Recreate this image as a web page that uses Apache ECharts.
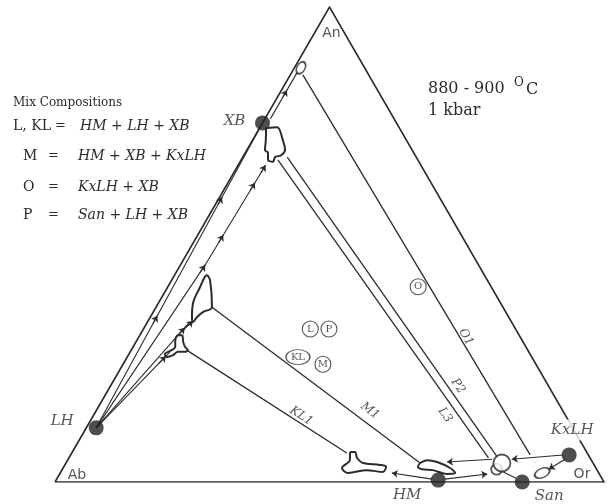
<!DOCTYPE html>
<html><head><meta charset="utf-8">
<script src="https://cdn.jsdelivr.net/npm/echarts/dist/echarts.min.js"></script>
<style>html,body{margin:0;padding:0;background:#fff}#c{width:615px;height:504px}</style>
</head><body><div id="c"></div>
<script>
// ---- DATA (ternary compositions given as [An %, Or %]; Ab = 100 - An - Or) ----
const vertexNames = ['Ab', 'Or', 'An'];
const vertexAnOr = [[0, 0], [0, 100], [100, 0]];

const phaseNames = ['XB', 'LH', 'HM', 'San', 'KxLH'];
const phaseAnOr = [[75.6, 0], [11.4, 1.8], [0.4, 69.6], [0, 85.1], [5.7, 90.8]];

const mixNames = ['L', 'P', 'KL', 'M', 'O'];
const mixAnOr = [[32.2, 30.4], [32.2, 33.8], [26.3, 31.1], [24.8, 36.4], [41.1, 45.6]];

const tieNames = ['KL1', 'M1', 'L3', 'P2', 'O1'];
const tieLines = [
  [[27.6, 10.4], [6.1, 50.1]],
  [[36.8, 10.2], [4.0, 64.5]],
  [[67.8, 6.7], [5.1, 76.4]],
  [[68.4, 8.1], [5.3, 77.9]],
  [[85.7, 2.3], [5.7, 83.7]]
];
const tieLabelAnOr = [[13.9, 37.9], [15.0, 49.9], [14.1, 64.0], [20.2, 63.3], [30.5, 59.6]];

const pathLines = [
  [[11.4, 1.8], [75.6, 0]],
  [[11.4, 1.8], [45.7, 4.5], [66.7, 5.0]],
  [[11.4, 1.8], [33.7, 7.7]],
  [[11.4, 1.8], [27.4, 7.25]],
  [[31.2, 7.0], [33.9, 8.2]],
  [[76.5, 1.0], [86.5, 1.0]],
  [[2.1, 80.6], [0.8, 83.6]]
];
// arrows: [tail, tip]
const arrowLines = [
  [[58.5, 0.48], [60.0, 0.44]],
  [[33.3, 1.19], [35.0, 1.14]],
  [[50.4, 4.61], [52.0, 4.65]],
  [[61.4, 4.86], [63.0, 4.9]],
  [[65.1, 4.96], [66.7, 5.0]],
  [[44.1, 4.37], [45.7, 4.5]],
  [[25.0, 6.43], [26.5, 6.94]],
  [[31.0, 6.99], [32.5, 7.38]],
  [[32.8, 7.7], [33.9, 8.2]],
  [[81.0, 1.0], [82.5, 1.0]],
  [[4.8, 77.2], [4.2, 69.3]],
  [[5.7, 89.7], [4.8, 80.8]],
  [[4.8, 90.5], [2.7, 88.6]],
  [[0.6, 68.4], [1.9, 60.4]],
  [[0.6, 70.7], [1.7, 77.9]]
];

const openCircleAnOr = [[2.7, 79.1], [4.0, 79.4]];
const ellipseAnOr = [[87.2, 1.2], [1.9, 87.8]];

const blobXB = [[74.5,1.2],[74.7,3.1],[72.0,5.5],[69.9,6.95],[68.8,6.8],[68.4,5.9],[67.4,6.0],[67.8,4.9],[69.3,4.15],[69.9,3.3],[72.0,2.4]];
const blobUpper = [[43.6,5.9],[42.5,7.0],[36.8,10.2],[35.8,9.1],[34.7,8.5],[33.7,8.3],[34.7,7.6],[37.7,6.3],[41.05,5.9],[43.2,5.7]];
const blobT = [[30.9,6.8],[30.9,7.7],[29.5,8.6],[28.4,9.5],[27.8,10.3],[27.4,10.0],[27.4,8.7],[26.7,8.15],[26.3,7.25],[26.9,6.55],[27.8,7.4],[28.4,7.7],[29.9,6.95]];
const blobKL1 = [[6.3,50.6],[6.3,51.5],[5.05,52.5],[4.0,54.1],[3.6,57.4],[3.2,58.7],[2.1,58.65],[2.5,55.55],[1.9,52.45],[2.95,50.8],[4.6,51.4]];
const blobM1 = [[4.0,64.5],[4.6,65.5],[4.2,67.5],[2.95,70.5],[1.9,71.95],[1.7,70.55],[2.5,67.6],[2.7,65.5],[3.2,64.5]];

const legendTitle = 'Mix Compositions';
const legendRows = [
  ['L, KL', 'HM + LH + XB'],
  ['M', 'HM + XB + KxLH'],
  ['O', 'KxLH + XB'],
  ['P', 'San + LH + XB']
];
const conditionTemp = '880 - 900';
const conditionPressure = '1 kbar';

// ---- helpers / styles ----
function T(p) { return [p[1] + p[0] / 2, p[0]]; }  // [An, Or] -> [x, y]
const INK = '#2b2b2b';
const SERIF = '"DejaVu Serif", "Liberation Serif", serif';
const SANS = '"DejaVu Sans", "Liberation Sans", sans-serif';

const phaseLabelOffset = { XB: [-28, -2], LH: [-34, -7], HM: [-31, 15], San: [27, 14], KxLH: [3, -25] };
const vertexLabelOffset = { Ab: [22, -7], Or: [-22, -8], An: [2, 26] };
const tieRotate = { KL1: -33, M1: -37, L3: -55, P2: -55, O1: -59 };

function blobSeries(pts) {
  const d = pts.map(T); d.push(T(pts[0]));
  return { type: 'line', data: d, smooth: 0.35, symbol: 'none', silent: true, z: 4,
    lineStyle: { color: INK, width: 2 } };
}

const chart = echarts.init(document.getElementById('c'));
const rowsY = [126, 156, 187, 215];
const graphics = [
  { type: 'text', x: 13, y: 103, style: { text: legendTitle, font: '12px ' + SERIF, fill: INK, verticalAlign: 'middle' } },
  { type: 'text', x: 428, y: 89, style: { text: conditionTemp, font: '16px ' + SERIF, fill: INK, verticalAlign: 'middle' } },
  { type: 'text', x: 514, y: 83, style: { text: 'O', font: '12px ' + SERIF, fill: INK, verticalAlign: 'middle' } },
  { type: 'text', x: 526, y: 90, style: { text: 'C', font: '16px ' + SERIF, fill: INK, verticalAlign: 'middle' } },
  { type: 'text', x: 428, y: 111, style: { text: conditionPressure, font: '16px ' + SERIF, fill: INK, verticalAlign: 'middle' } }
];
legendRows.forEach((r, i) => {
  const first = i === 0;
  graphics.push({ type: 'text', x: first ? 13 : 23, y: rowsY[i], style: { text: r[0], font: '14px ' + SERIF, fill: INK, verticalAlign: 'middle' } });
  graphics.push({ type: 'text', x: first ? 55 : 48, y: rowsY[i], style: { text: '=', font: '13px ' + SERIF, fill: INK, verticalAlign: 'middle' } });
  graphics.push({ type: 'text', x: first ? 80 : 78, y: rowsY[i], style: { text: r[1], font: 'italic 14px ' + SERIF, fill: INK, verticalAlign: 'middle' } });
});

chart.setOption({
  animation: false,
  backgroundColor: '#fff',
  grid: { left: 55, top: 7, width: 549, height: 475 },
  xAxis: { type: 'value', min: 0, max: 100, show: false },
  yAxis: { type: 'value', min: 0, max: 100, show: false },
  graphic: graphics,
  series: [
    { type: 'lines', coordinateSystem: 'cartesian2d', polyline: true, silent: true, z: 1,
      lineStyle: { color: INK, width: 1.6, opacity: 1 },
      data: [{ coords: [T(vertexAnOr[0]), T(vertexAnOr[1]), T(vertexAnOr[2]), T(vertexAnOr[0])] }] },
    { type: 'lines', coordinateSystem: 'cartesian2d', silent: true, z: 2,
      lineStyle: { color: INK, width: 1.3, opacity: 1 },
      data: tieLines.map(l => ({ coords: l.map(T) })) },
    { type: 'lines', coordinateSystem: 'cartesian2d', polyline: true, silent: true, z: 2,
      lineStyle: { color: INK, width: 1.1, opacity: 1 },
      data: pathLines.map(l => ({ coords: l.map(T) })) },
    { type: 'lines', coordinateSystem: 'cartesian2d', silent: true, z: 3,
      symbol: ['none', 'arrow'], symbolSize: 6,
      lineStyle: { color: INK, width: 1.1, opacity: 1 },
      data: arrowLines.map(l => ({ coords: l.map(T) })) },
    blobSeries(blobXB), blobSeries(blobUpper), blobSeries(blobT), blobSeries(blobKL1), blobSeries(blobM1),
    { type: 'scatter', silent: true, z: 5, symbol: 'circle',
      itemStyle: { color: '#fff', borderColor: INK, borderWidth: 1.8 },
      data: openCircleAnOr.map((p, i) => ({ value: T(p), symbolSize: i === 0 ? 11 : 17 })) },
    { type: 'scatter', silent: true, z: 5, symbol: 'circle',
      itemStyle: { color: '#fff', borderColor: INK, borderWidth: 1.8 },
      data: ellipseAnOr.map((p, i) => ({ value: T(p), symbolSize: i === 0 ? [13, 8] : [16, 9], symbolRotate: i === 0 ? 60 : 25 })) },
    { type: 'scatter', silent: true, z: 6, symbol: 'circle', symbolSize: 15,
      itemStyle: { color: '#222' },
      label: { show: true, position: 'inside', formatter: '{b}', color: INK,
        fontStyle: 'italic', fontSize: 15, fontFamily: SERIF },
      data: phaseNames.map((n, i) => ({ name: n, value: T(phaseAnOr[i]),
        label: { offset: phaseLabelOffset[n], backgroundColor: n === 'KxLH' ? '#fff' : 'transparent', padding: [3, 2] } })) },
    { type: 'scatter', silent: true, z: 6, symbol: 'circle',
      itemStyle: { color: '#fff', borderColor: INK, borderWidth: 1.1 },
      label: { show: true, position: 'inside', formatter: '{b}', color: INK, fontSize: 10, fontFamily: SERIF },
      data: mixNames.map((n, i) => ({ name: n, value: T(mixAnOr[i]), symbolSize: n === 'KL' ? [24, 15] : 16 })) },
    { type: 'scatter', silent: true, z: 6, symbolSize: 0,
      label: { show: true, position: 'inside', formatter: '{b}', color: INK, fontSize: 14, fontFamily: SANS },
      data: vertexNames.map((n, i) => ({ name: n, value: T(vertexAnOr[i]), label: { offset: vertexLabelOffset[n] } })) },
    { type: 'scatter', silent: true, z: 6, symbolSize: 0,
      label: { show: true, position: 'inside', formatter: '{b}', color: INK,
        fontStyle: 'italic', fontSize: 12, fontFamily: SERIF },
      data: tieNames.map((n, i) => ({ name: n, value: T(tieLabelAnOr[i]), label: { rotate: tieRotate[n] } })) }
  ]
});
</script>
</body></html>
